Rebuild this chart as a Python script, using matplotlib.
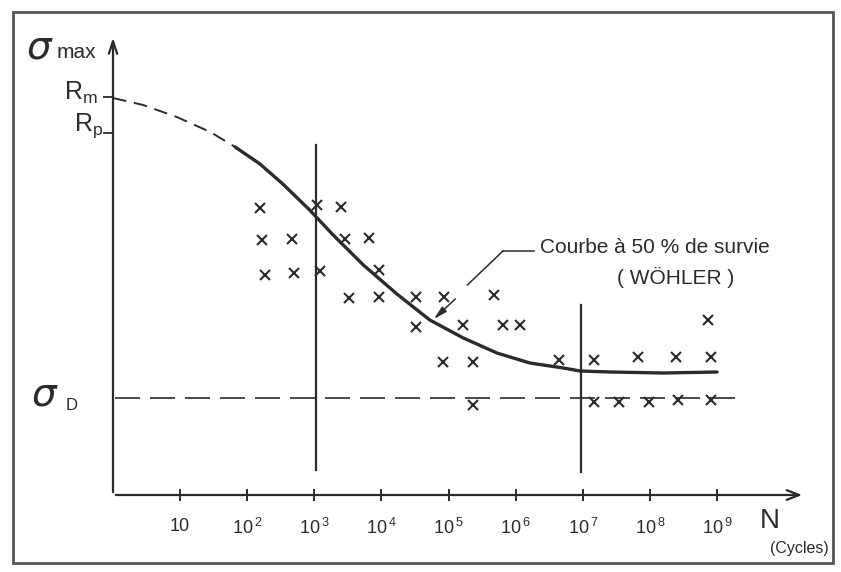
import matplotlib.pyplot as plt
from matplotlib.patches import Rectangle

plt.rcParams['font.family'] = ['Liberation Sans Narrow', 'Liberation Sans', 'DejaVu Sans']

INK = '#2b2b2b'

# x = log10(N cycles), y = stress (arbitrary units)
exponents = [1, 2, 3, 4, 5, 6, 7, 8, 9]
tick_labels = ['10'] + [r'$\mathregular{10^{\,%d}}$' % e for e in exponents[1:]]

R_m = 3.98
R_p = 3.62
sigma_D = 0.97

# test results (fatigue ruptures)
pts_x = [2.19, 3.04, 3.39, 2.22, 2.67, 3.46, 3.81, 2.27, 2.69, 3.09, 3.97,
         3.51, 3.97, 4.51, 4.93, 5.67, 4.51, 5.22, 5.81, 6.07, 4.91, 5.36, 5.37,
         6.64, 7.16, 7.82, 8.39, 8.91, 8.87, 7.16, 7.54, 7.99, 8.42, 8.91]
pts_y = [2.87, 2.90, 2.88, 2.55, 2.56, 2.56, 2.57, 2.20, 2.22, 2.24, 2.25,
         1.97, 1.98, 1.98, 1.98, 2.00, 1.68, 1.70, 1.70, 1.70, 1.33, 1.33, 0.90,
         1.35, 1.35, 1.38, 1.38, 1.38, 1.75, 0.93, 0.93, 0.93, 0.95, 0.95]

# Wohler curve (50 % survival), dashed part near the static strength
dash_x = [0.00, 0.45, 0.95, 1.45, 1.82]
dash_y = [3.97, 3.90, 3.78, 3.63, 3.48]
curve_x = [1.82, 2.19, 2.53, 2.93, 3.28, 3.73, 4.23, 4.72, 5.22, 5.72, 6.21, 6.71, 6.96, 7.41, 8.20, 9.00]
curve_y = [3.48, 3.31, 3.11, 2.85, 2.60, 2.30, 2.01, 1.75, 1.57, 1.42, 1.32, 1.27, 1.24, 1.23, 1.22, 1.23]

# limits of the domains (oligocyclic / limited endurance / unlimited endurance)
vlines_x = [3.02, 6.97]
vlines_top = [3.50, 1.90]
vlines_bottom = [0.25, 0.23]

fig = plt.figure(figsize=(8.41, 5.72), dpi=100)
ax = fig.add_axes([113 / 841, 77 / 572, 692 / 841, 460 / 572])
ax.set_xlim(0, 10.31)
ax.set_ylim(0, 4.60)
for s in ax.spines.values():
    s.set_visible(False)

# axes with arrows
ax.annotate('', xy=(10.31, 0), xytext=(0, 0),
            arrowprops=dict(arrowstyle='->,head_length=0.9,head_width=0.35', lw=1.6, color=INK),
            annotation_clip=False)
ax.annotate('', xy=(0, 4.60), xytext=(0, 0),
            arrowprops=dict(arrowstyle='->,head_length=0.9,head_width=0.3', lw=1.6, color=INK),
            annotation_clip=False)

ax.set_xticks(exponents)
ax.set_xticklabels(tick_labels, fontsize=13, color=INK)
ax.tick_params(axis='x', direction='inout', length=9, width=1.4, color=INK, pad=12)
ax.set_yticks([R_p, R_m])
ax.set_yticklabels([])
ax.tick_params(axis='y', direction='out', length=7, width=1.3, color=INK)

# curve
ax.plot(dash_x, dash_y, color=INK, lw=1.4, dashes=(7, 4))
ax.plot(curve_x, curve_y, color=INK, lw=2.4, solid_capstyle='round', solid_joinstyle='round')

# endurance limit
ax.plot([0.03, 9.42], [sigma_D, sigma_D], color=INK, lw=1.2, dashes=(15, 6))

for x, top, bot in zip(vlines_x, vlines_top, vlines_bottom):
    ax.plot([x, x], [bot, top], color=INK, lw=1.6)

ax.plot(pts_x, pts_y, ls='none', marker='x', ms=6.5, mew=1.5, color=INK)

# labels
ax.text(-1.09, 4.47, r'$\sigma$', fontsize=28, ha='center', va='center', color=INK,
        family='DejaVu Serif')
ax.text(-0.84, 4.43, 'max', fontsize=15, ha='left', va='center', color=INK)
ax.text(-0.22, 3.95, r'R$_\mathregular{m}$', fontsize=18, ha='right', va='baseline', color=INK)
ax.text(-0.15, 3.64, r'R$_\mathregular{p}$', fontsize=18, ha='right', va='baseline', color=INK)
ax.text(-1.01, 1.00, r'$\sigma$', fontsize=28, ha='center', va='center', color=INK,
        family='DejaVu Serif')
ax.text(-0.70, 0.85, 'D', fontsize=12, ha='left', va='baseline', color=INK)

ax.text(9.78, -0.26, 'N', fontsize=20, ha='center', va='center', color=INK)
ax.text(10.22, -0.53, '(Cycles)', fontsize=11.5, ha='center', va='center', color=INK)

ax.text(6.36, 2.47, 'Courbe à 50 % de survie', fontsize=15, ha='left', va='center', color=INK)
ax.text(8.38, 2.18, '( WÖHLER )', fontsize=15, ha='center', va='center', color=INK)
# leader line with a gap where it crosses a test point
ax.plot([5.81, 6.27], [2.44, 2.44], color=INK, lw=1.1)
ax.plot([5.81, 5.28], [2.44, 2.10], color=INK, lw=1.1)
ax.annotate('', xy=(4.75, 1.74), xytext=(5.13, 1.98),
            arrowprops=dict(arrowstyle='-|>,head_length=0.8,head_width=0.2', lw=1.1, color=INK))

# scanned page frame
fig.patches.append(Rectangle((13 / 841, 1 - 563 / 572), 820 / 841, 551 / 572,
                             transform=fig.transFigure, fill=False, ec='#555555', lw=2))

fig.savefig('out.png', dpi=100)
